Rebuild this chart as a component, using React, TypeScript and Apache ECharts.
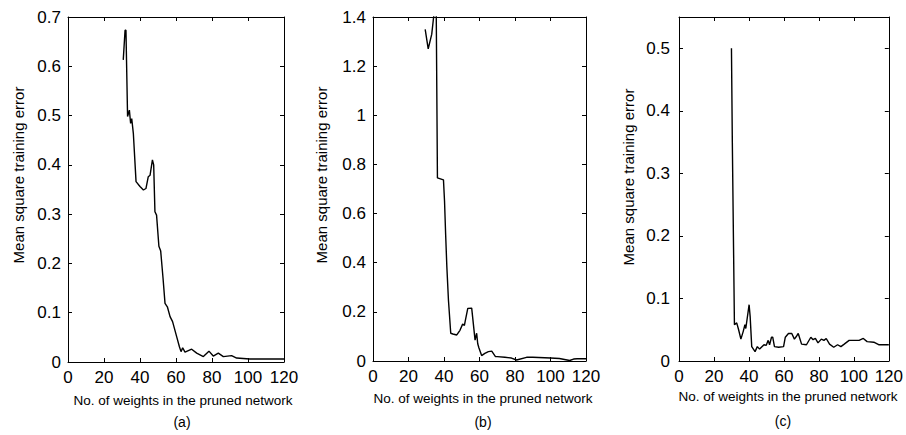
import React, { useEffect, useRef } from "react";
import * as echarts from "echarts";

const xLabelTicks = [0, 20, 40, 60, 80, 100, 120];

const xA = [30.7, 31.7, 32.2, 33.1, 34.1, 34.8, 35.4, 36.3, 37.8, 40, 41.9, 43.3, 44.6, 45.6, 46.9, 47.6, 48.3, 49.2, 50.5, 51.5, 52.8, 53.9, 55.2, 56.7, 58.1, 60.4, 61.9, 62.8, 63.7, 65, 68.7, 71.5, 75.2, 78.3, 80.7, 83.5, 86.3, 90.9, 93.7, 101, 120];
const yA = [0.613, 0.673, 0.673, 0.498, 0.511, 0.484, 0.494, 0.464, 0.366, 0.356, 0.349, 0.352, 0.376, 0.379, 0.41, 0.4, 0.305, 0.298, 0.235, 0.225, 0.17, 0.119, 0.112, 0.092, 0.082, 0.051, 0.031, 0.021, 0.029, 0.02, 0.026, 0.018, 0.011, 0.022, 0.012, 0.018, 0.011, 0.013, 0.008, 0.006, 0.006];

const xB = [29.4, 31.1, 33.1, 34, 35, 35.6, 36.3, 39.7, 40.3, 40.9, 41.6, 42.5, 43.8, 45, 47.2, 49, 50.5, 51.5, 51.9, 53.4, 55.6, 57.5, 58.4, 59, 59.7, 61.2, 63, 65, 66.9, 69, 70, 74.3, 78, 80.9, 86.5, 90, 100, 105, 110.8, 113, 115, 120];
const yB = [1.35, 1.27, 1.33, 1.39, 1.45, 1.45, 0.745, 0.737, 0.65, 0.52, 0.384, 0.248, 0.113, 0.11, 0.106, 0.125, 0.15, 0.145, 0.16, 0.214, 0.215, 0.085, 0.113, 0.07, 0.053, 0.022, 0.031, 0.038, 0.04, 0.018, 0.018, 0.015, 0.012, 0.004, 0.015, 0.015, 0.012, 0.01, 0.002, 0.008, 0.009, 0.009];

const xC = [30, 30.5, 31.2, 31.7, 33, 34.1, 35.4, 36.7, 37.7, 38.2, 40.1, 40.7, 41.6, 43.5, 44.8, 46.1, 48.6, 49.9, 51, 51.8, 52.9, 53.6, 54.6, 57, 59.8, 60.8, 62.6, 64.5, 66, 67.3, 68.2, 70.1, 72.9, 75.4, 76.7, 78, 79.5, 81.4, 82.9, 84.2, 86.1, 88.5, 90.7, 92.6, 94.5, 97.3, 100.1, 103, 105.4, 107.6, 111.4, 114.2, 120];
const yC = [0.5, 0.35, 0.18, 0.058, 0.061, 0.05, 0.035, 0.047, 0.058, 0.052, 0.09, 0.071, 0.023, 0.015, 0.023, 0.019, 0.026, 0.025, 0.033, 0.026, 0.038, 0.038, 0.023, 0.022, 0.023, 0.038, 0.044, 0.044, 0.035, 0.04, 0.044, 0.027, 0.026, 0.038, 0.034, 0.036, 0.029, 0.035, 0.033, 0.036, 0.027, 0.022, 0.026, 0.023, 0.027, 0.033, 0.033, 0.033, 0.036, 0.031, 0.03, 0.026, 0.026];

const panelLetters = ["(a)", "(b)", "(c)"];
const xTitle = "No. of weights in the pruned network";
const yTitle = "Mean square training error";

const FONT = "'Liberation Sans', Arial, Helvetica, sans-serif";

export default function App() {
  const ref = useRef<HTMLDivElement>(null);
  useEffect(() => {
    document.body.style.margin = "0";
    const chart = echarts.init(ref.current!, null, { renderer: "svg" });
    const grids = [
      { left: 68, top: 17, width: 216, height: 345 },
      { left: 373, top: 17, width: 213, height: 344 },
      { left: 679, top: 17, width: 213, height: 344 },
    ];
    const yMaxes = [0.7, 1.4, 0.55];
    const yIntervals = [0.1, 0.2, 0.1];
    const labelMargins = [7, 7, 9];
    const xs = [xA, xB, xC];
    const ys = [yA, yB, yC];
    const tick = { show: true, inside: true, length: 4, lineStyle: { color: "#000", width: 1 } };
    const line = { show: true, onZero: false, lineStyle: { color: "#000", width: 1 } };
    const xAxis: any[] = [];
    const yAxis: any[] = [];
    const series: any[] = [];
    for (let i = 0; i < 3; i++) {
      const base = { type: "value", gridIndex: i, splitLine: { show: false }, axisLine: line, axisTick: tick };
      xAxis.push({
        ...base, position: "bottom", min: 0, max: 120, interval: 20,
        axisLabel: { color: "#000", fontSize: 17, fontFamily: FONT, margin: 7,
          formatter: (v: number) => (xLabelTicks.includes(v) ? String(v) : "") },
      });
      xAxis.push({ ...base, position: "top", min: 0, max: 120, interval: 20, axisLabel: { show: false } });
      yAxis.push({
        ...base, position: "left", min: 0, max: yMaxes[i], interval: yIntervals[i],
        axisLabel: { color: "#000", fontSize: 17, fontFamily: FONT, margin: labelMargins[i], showMaxLabel: i !== 2 },
      });
      yAxis.push({ ...base, position: "right", min: 0, max: yMaxes[i], interval: yIntervals[i], axisLabel: { show: false } });
      series.push({
        type: "line", xAxisIndex: i * 2, yAxisIndex: i * 2, showSymbol: false, clip: true,
        lineStyle: { color: "#000", width: 1.4 },
        data: xs[i].map((x, k) => [x, ys[i][k]]),
      });
    }
    const yTitlePos = [[18, 175], [321, 175], [628, 177]];
    const xTitlePos = [[183, 400], [483, 398], [788, 396]];
    const letterPos = [[182, 422], [483, 422], [783, 421]];
    const graphic: any[] = [];
    for (let i = 0; i < 3; i++) {
      graphic.push({
        type: "text", x: yTitlePos[i][0], y: yTitlePos[i][1], rotation: Math.PI / 2,
        style: { text: yTitle, fill: "#000", font: `15px ${FONT}`, textAlign: "center", textVerticalAlign: "middle" },
      });
      graphic.push({
        type: "text", x: xTitlePos[i][0], y: xTitlePos[i][1],
        style: { text: xTitle, fill: "#000", font: `13.5px ${FONT}`, textAlign: "center", textVerticalAlign: "middle" },
      });
      graphic.push({
        type: "text", x: letterPos[i][0], y: letterPos[i][1],
        style: { text: panelLetters[i], fill: "#000", font: `14px ${FONT}`, textAlign: "center", textVerticalAlign: "middle" },
      });
    }
    chart.setOption({
      animation: false,
      backgroundColor: "#fff",
      grid: grids,
      xAxis,
      yAxis,
      series,
      graphic,
    });
    return () => chart.dispose();
  }, []);
  return <div ref={ref} style={{ width: 906, height: 435 }} />;
}
